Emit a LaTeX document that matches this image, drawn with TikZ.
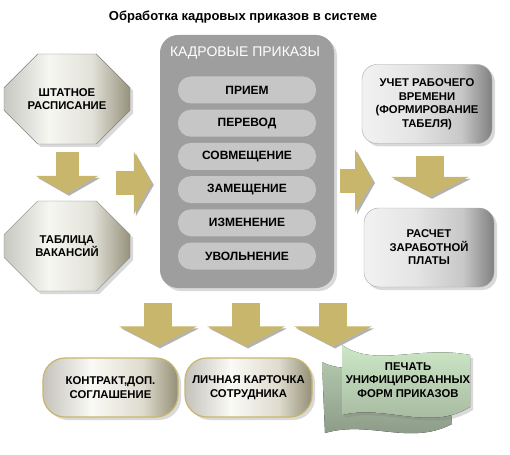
\documentclass[tikz,border=0pt]{standalone}
\usepackage{fontspec}
\setmainfont{Liberation Sans}
\usetikzlibrary{arrows.meta,shapes.misc,shadows}

\definecolor{gold}{RGB}{200,182,108}
\definecolor{octl}{RGB}{200,200,194}
\definecolor{octm}{RGB}{246,246,242}
\definecolor{octn}{RGB}{226,225,216}
\definecolor{octr}{RGB}{150,146,124}
\definecolor{kpdark}{RGB}{158,158,158}
\definecolor{kplight}{RGB}{206,206,206}
\definecolor{pilledge}{RGB}{198,198,198}
\definecolor{pillmid}{RGB}{244,244,244}
\definecolor{metl}{RGB}{242,242,242}
\definecolor{metm}{RGB}{228,228,228}
\definecolor{metn}{RGB}{200,200,200}
\definecolor{metr}{RGB}{128,128,128}
\definecolor{goldl}{RGB}{196,194,186}
\definecolor{goldm}{RGB}{250,250,246}
\definecolor{goldn}{RGB}{222,219,206}
\definecolor{goldr}{RGB}{148,143,118}
\definecolor{docl}{RGB}{205,232,198}
\definecolor{docd}{RGB}{150,165,145}

\pgfdeclarehorizontalshading{octsh}{100bp}{color(0bp)=(octl); color(25bp)=(octl);
  color(43bp)=(octm); color(60bp)=(octn); color(75bp)=(octr); color(100bp)=(octr)}
\pgfdeclarehorizontalshading{metsh}{100bp}{color(0bp)=(metl); color(25bp)=(metl);
  color(45bp)=(metm); color(63bp)=(metn); color(75bp)=(metr); color(100bp)=(metr)}
\pgfdeclarehorizontalshading{goldsh}{100bp}{color(0bp)=(goldl); color(25bp)=(goldl);
  color(43bp)=(goldm); color(62bp)=(goldn); color(75bp)=(goldr); color(100bp)=(goldr)}

\begin{document}
\begin{tikzpicture}[x=1pt,y=-1pt,
  lbl/.style={font=\bfseries\fontsize{11.3}{13.5}\selectfont,align=center},
  shad/.style={drop shadow={shadow xshift=3pt,shadow yshift=-3pt,opacity=.3}},
  octa/.style={lbl,chamfered rectangle,chamfered rectangle xsep=33pt,
    chamfered rectangle ysep=23pt,minimum width=126pt,minimum height=90pt,
    inner sep=0pt,draw=black!50,shading=octsh,shad},
  kbox/.style={rounded corners=18pt,minimum width=174pt,minimum height=253pt,
    left color=kpdark,middle color=kplight,right color=kpdark,shad},
  pill/.style={font=\bfseries\fontsize{12}{14}\selectfont,rounded corners=13pt,
    minimum width=138pt,minimum height=27pt,
    left color=pilledge,middle color=pillmid,right color=pilledge},
  mbox/.style={lbl,rounded corners=15pt,minimum width=130pt,minimum height=79pt,
    draw=black!35,shading=metsh,shad},
  gbox/.style={lbl,rounded corners=22pt,minimum height=59pt,draw=gold,line width=1.2pt,
    shading=goldsh,shad},
  ashad/.style={preaction={draw=black!30,transform canvas={shift={(2pt,-2pt)}}}},
  arr/.style={draw=gold,line width=23pt,-{Triangle[width=62pt,length=18pt]},ashad},
  warr/.style={draw=gold,line width=28pt,-{Triangle[width=77pt,length=20pt]},ashad}]

  \useasboundingbox (0,0) rectangle (510,454);

  \node (title) at (243,17) {\bfseries\fontsize{13}{15}\selectfont Обработка кадровых приказов в системе};

  % left column
  \node[octa] (shtat) at (67,99) {ШТАТНОЕ\\РАСПИСАНИЕ};
  \node[octa] (vakans) at (67,246) {ТАБЛИЦА\\ВАКАНСИЙ};

  % orders
  \node[kbox] (kp) at (247,161.5) {};
  \node[text=white,font=\fontsize{14}{16}\selectfont] (kptitle) at (245,53) {КАДРОВЫЕ ПРИКАЗЫ};
  \foreach \t [count=\i] in {ПРИЕМ,ПЕРЕВОД,СОВМЕЩЕНИЕ,ЗАМЕЩЕНИЕ,ИЗМЕНЕНИЕ,УВОЛЬНЕНИЕ}
    \node[pill] (p\i) at (247,{90+33.2*(\i-1)}) {\t};

  % right column
  \node[mbox] (uchet) at (427,104) {УЧЕТ РАБОЧЕГО\\ВРЕМЕНИ\\(ФОРМИРОВАНИЕ\\ТАБЕЛЯ)};
  \node[mbox] (raschet) at (429,247.5) {РАСЧЕТ\\ЗАРАБОТНОЙ\\ПЛАТЫ};

  % bottom row
  \node[gbox,minimum width=135pt] (kontr) at (110.5,387.5) {КОНТРАКТ,ДОП.\\СОГЛАШЕНИЕ};
  \node[gbox,minimum width=127pt] (lichn) at (248.5,387.5) {ЛИЧНАЯ КАРТОЧКА\\СОТРУДНИКА};

  \fill[top color=docl!55!docd,bottom color=docd!90!black] (322,362) .. controls (352,378) and (400,356) .. (448,370)
    -- (452,424) .. controls (410,446) and (370,420) .. (325,433) -- cycle;
  \fill[top color=docl,bottom color=docd!80!docl,shad] (342,345) .. controls (375,368) and (420,345) .. (470,355)
    -- (470,407) .. controls (430,432) and (385,404) .. (342,415) -- cycle;
  \node[lbl] (pechat) at (408,380) {ПЕЧАТЬ\\УНИФИЦИРОВАННЫХ\\ФОРМ ПРИКАЗОВ};

  % arrows
  \coordinate (lstart) at (116,183);
  \coordinate (rend) at (373,181);
  \draw[arr,shorten <=8pt,shorten >=7pt] (shtat.south) -- (vakans.north);
  \draw[arr,shorten >=8pt] (lstart) -- (lstart -| kp.west);
  \draw[arr,shorten <=6pt] (rend -| kp.east) -- (rend);
  \draw[warr,shorten <=12pt,shorten >=11pt] ([xshift=3pt]uchet.south) -- ([xshift=3pt]uchet.south |- raschet.north);
  \foreach \dx in {-89,-1,86}
    \draw[warr,shorten <=15pt,shorten >=11pt] ([xshift=\dx pt]kp.south) -- ([xshift=\dx pt]kp.south |- kontr.north);
\end{tikzpicture}
\end{document}
